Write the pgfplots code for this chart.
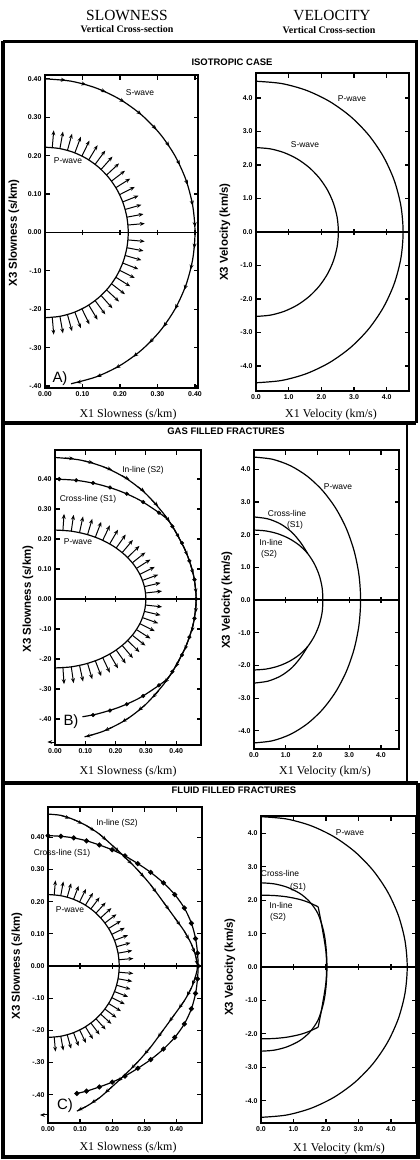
\documentclass[border=0pt]{standalone}
\usepackage{pgfplots}
\pgfplotsset{compat=1.18}
\usepackage{pgfplotstable}
\usepackage{fontspec}
\setmainfont{Liberation Serif}
\setsansfont{Liberation Sans}
\usetikzlibrary{arrows.meta}

\newcommand\tickfont{\fontsize{7}{7.5}\selectfont\sffamily\bfseries}
\newcommand\annfont{\fontsize{8.5}{9}\selectfont\sffamily}
\newcommand\ylabfont{\fontsize{11.5}{12}\selectfont\sffamily\bfseries}
\newcommand\xlabfont{\fontsize{12}{13}\selectfont\rmfamily}

% P-wave polarization arrows, isotropic (A and C)
\pgfplotstableread{
x y u v
.2212 .0194 .0448 .0039
.2184 .0398 .0443 .0081
.2138 .0599 .0433 .0122
.2073 .0796 .0420 .0161
.1990 .0985 .0403 .0200
.1889 .1166 .0383 .0236
.1773 .1336 .0359 .0271
.1641 .1495 .0333 .0303
.1495 .1641 .0303 .0333
.1336 .1773 .0271 .0359
.1166 .1889 .0236 .0383
.0985 .1990 .0200 .0403
.0796 .2073 .0161 .0420
.0599 .2138 .0122 .0433
.0398 .2184 .0081 .0443
.0194 .2212 .0039 .0448
.2212 -.0194 .0448 -.0039
.2184 -.0398 .0443 -.0081
.2138 -.0599 .0433 -.0122
.2073 -.0796 .0420 -.0161
.1990 -.0985 .0403 -.0200
.1889 -.1166 .0383 -.0236
.1773 -.1336 .0359 -.0271
.1641 -.1495 .0333 -.0303
.1495 -.1641 .0303 -.0333
.1336 -.1773 .0271 -.0359
.1166 -.1889 .0236 -.0383
.0985 -.1990 .0200 -.0403
.0796 -.2073 .0161 -.0420
.0599 -.2138 .0122 -.0433
.0398 -.2184 .0081 -.0443
.0194 -.2212 .0039 -.0448
}\PArrA

% P-wave arrows, gas filled (B)
\pgfplotstableread{
x y u v
.2989 .0201 .0546 .0062
.2951 .0413 .0535 .0127
.2889 .0621 .0517 .0189
.2801 .0824 .0492 .0246
.2689 .1020 .0462 .0298
.2553 .1208 .0429 .0345
.2396 .1384 .0392 .0386
.2218 .1549 .0354 .0421
.2020 .1700 .0315 .0451
.1805 .1837 .0275 .0476
.1575 .1958 .0235 .0497
.1331 .2061 .0195 .0514
.1075 .2147 .0155 .0528
.0810 .2215 .0116 .0538
.0538 .2263 .0076 .0545
.0262 .2291 .0037 .0549
.2989 -.0201 .0546 -.0062
.2951 -.0413 .0535 -.0127
.2889 -.0621 .0517 -.0189
.2801 -.0824 .0492 -.0246
.2689 -.1020 .0462 -.0298
.2553 -.1208 .0429 -.0345
.2396 -.1384 .0392 -.0386
.2218 -.1549 .0354 -.0421
.2020 -.1700 .0315 -.0451
.1805 -.1837 .0275 -.0476
.1575 -.1958 .0235 -.0497
.1331 -.2061 .0195 -.0514
.1075 -.2147 .0155 -.0528
.0810 -.2215 .0116 -.0538
.0538 -.2263 .0076 -.0545
.0262 -.2291 .0037 -.0549
}\PArrB

% S-wave tangent arrowheads (A)
\pgfplotstableread{
x y u v
.0418 .3978 .0139 -.0015
.0968 .3881 .0136 -.0034
.1498 .3709 .0130 -.0052
.2000 .3464 .0121 -.0070
.2463 .3152 .0110 -.0086
.2877 .2779 .0097 -.0101
.3236 .2351 .0082 -.0113
.3532 .1878 .0066 -.0124
.3759 .1368 .0048 -.0131
.3912 .0832 .0029 -.0137
.3990 .0279 .0010 -.0140
.3990 -.0279 -.0010 -.0140
.3912 -.0832 -.0029 -.0137
.3759 -.1368 -.0048 -.0131
.3532 -.1878 -.0066 -.0124
.3236 -.2351 -.0082 -.0113
.2877 -.2779 -.0097 -.0101
.2463 -.3152 -.0110 -.0086
.2000 -.3464 -.0121 -.0070
.1498 -.3709 -.0130 -.0052
.0968 -.3881 -.0136 -.0034
}\SArrA

% In-line S2 arrows (B)
\pgfplotstableread{
x y u v
.0329 .4705 .0299 -.0021
.0978 .4603 .0293 -.0062
.1604 .4407 .0282 -.0103
.2193 .4125 .0265 -.0141
.2725 .3751 .0243 -.0176
.3193 .3306 .0216 -.0208
.3606 .2817 .0185 -.0236
.3958 .2285 .0150 -.0260
.4260 .1721 .0112 -.0278
.4487 .1119 .0073 -.0291
.4626 .0486 .0031 -.0298
.4657 -.0163 -.0010 -.0300
.4570 -.0806 -.0052 -.0295
.4379 -.1423 -.0093 -.0285
.4117 -.2008 -.0132 -.0270
.3789 -.2556 -.0168 -.0249
.3415 -.3075 -.0201 -.0223
.2970 -.3539 -.0230 -.0193
.2465 -.3945 -.0254 -.0159
.1902 -.4272 -.0274 -.0122
.1294 -.4514 -.0288 -.0083
0 -.477 -.025 0
}\SArrB

% In-line S2 arrows (C)
\pgfplotstableread{
x y u v
.04 .468 .0285 -.0093
.08 .455 .0271 -.0129
.12 .436 .0252 -.0164
.16 .410 .0226 -.0197
.20 .375 .0220 -.0204
.24 .338 .0212 -.0212
.28 .298 .0197 -.0226
.32 .252 .0179 -.0241
.36 .198 .0177 -.0242
.395 .150 .0174 -.0244
.425 .108 .0144 -.0263
.447 .068 .0102 -.0282
.46 .032 .0055 -.0295
.46 -.032 -.0102 -.0282
.447 -.068 -.0144 -.0263
.425 -.108 -.0174 -.0244
.395 -.150 -.0177 -.0242
.36 -.198 -.0179 -.0241
.32 -.252 -.0197 -.0226
.28 -.298 -.0212 -.0212
.24 -.338 -.0220 -.0204
.20 -.375 -.0226 -.0197
.16 -.410 -.0252 -.0164
.12 -.436 -.0271 -.0129
0 -.463 -.025 0
}\SArrC

\pgfplotsset{
  panel/.style={scale only axis, anchor=south west, clip=false,
    axis line style={line width=1.5bp},
    tick align=inside, major tick length=4.5bp,
    every tick/.style={line width=1.2bp, black},
    xticklabel style={font=\tickfont},
    yticklabel style={font=\tickfont},
  },
  slow/.style={xtick={0,0.1,0.2,0.3,0.4}, xticklabels={0.00,0.10,0.20,0.30,0.40},
    ytick={-0.4,-0.3,-0.2,-0.1,0,0.1,0.2,0.3,0.4},
    yticklabels={-.40,-.30,-.20,-.10,0.00,0.10,0.20,0.30,0.40}},
  vel/.style={xtick={0,1,2,3,4}, xticklabels={0.0,1.0,2.0,3.0,4.0},
    ytick={-4,-3,-2,-1,0,1,2,3,4},
    yticklabels={-4.0,-3.0,-2.0,-1.0,0.0,1.0,2.0,3.0,4.0}},
  crv/.style={line width=1.2bp, black, smooth},
  arr/.style={quiver={u=\thisrow{u},v=\thisrow{v}}, -{Stealth[length=4.8bp,width=3.8bp]}, line width=1bp, black},
  zl/.style={line width=1.8bp, black},
  ztk/.style={only marks, mark=|, mark size=2.8bp, mark options={line width=1.2bp}, black},
}

\begin{document}
\begin{tikzpicture}
\useasboundingbox (0,0) rectangle (420bp,-1160bp);

% headers
\node[font=\fontsize{15.5}{16}\selectfont\rmfamily] at (127bp,-16bp) {SLOWNESS};
\node[font=\fontsize{10}{11}\selectfont\rmfamily\bfseries] at (127bp,-29bp) {Vertical Cross-section};
\node[font=\fontsize{15.5}{16}\selectfont\rmfamily] at (332bp,-16bp) {VELOCITY};
\node[font=\fontsize{10}{11}\selectfont\rmfamily\bfseries] at (329bp,-30bp) {Vertical Cross-section};

% frames
\draw[line width=3bp] (3bp,-41bp) -- (416bp,-41bp) -- (416bp,-423bp);
\draw[line width=2bp] (407bp,-423bp) -- (407bp,-783bp);
\draw[line width=3.5bp] (3bp,-41bp) -- (3bp,-1157bp) -- (418bp,-1157bp) -- (418bp,-783bp);
\draw[line width=3.5bp] (3bp,-423bp) -- (416bp,-423bp);
\draw[line width=3.5bp] (3bp,-783bp) -- (418bp,-783bp);

\node[font=\fontsize{9.5}{10}\selectfont\sffamily\bfseries] at (232bp,-62bp) {ISOTROPIC CASE};
\node[font=\fontsize{9.5}{10}\selectfont\sffamily\bfseries] at (226bp,-431bp) {GAS FILLED FRACTURES};
\node[font=\fontsize{9.5}{10}\selectfont\sffamily\bfseries] at (234bp,-790bp) {FLUID FILLED FRACTURES};

% ================= A slowness
\begin{axis}[panel, slow, at={(45bp,-388bp)}, width=153bp, height=313bp,
  xmin=0, xmax=0.408, ymin=-0.405, ymax=0.41]
\addplot[zl] coordinates {(0,0) (0.408,0)};
\addplot[ztk] coordinates {(0.1,0) (0.2,0) (0.3,0) (0.4,0)};
\addplot[crv] coordinates {(0,.4)(.0695,.3939)(.1368,.3759)(.2,.3464)(.2571,.3064)(.3064,.2571)(.3464,.2)(.3759,.1368)(.3939,.0695)(.4,0)(.3939,-.0695)(.3759,-.1368)(.3464,-.2)(.3064,-.2571)(.2571,-.3064)(.2,-.3464)(.1368,-.3759)(.0695,-.3939)};
\addplot[crv] coordinates {(0,.222)(.0386,.2186)(.0759,.2086)(.111,.1923)(.1427,.1701)(.1701,.1427)(.1923,.111)(.2086,.0759)(.2186,.0386)(.222,0)(.2186,-.0386)(.2086,-.0759)(.1923,-.111)(.1701,-.1427)(.1427,-.1701)(.111,-.1923)(.0759,-.2086)(.0386,-.2186)(0,-.222)};
\addplot[arr] table {\PArrA};
\addplot[arr, -{Stealth[length=5bp,width=4bp]}] table {\SArrA};
\end{axis}

% ================= A velocity
\begin{axis}[panel, vel, at={(256bp,-391bp)}, width=153bp, height=318bp,
  xmin=0, xmax=4.68, ymin=-4.746, ymax=4.746]
\addplot[zl] coordinates {(0,0) (4.68,0)};
\addplot[ztk] coordinates {(1,0) (2,0) (3,0) (4,0)};
\addplot[crv] coordinates {(0,4.5)(.781,4.432)(1.539,4.229)(2.25,3.897)(2.893,3.447)(3.447,2.893)(3.897,2.25)(4.229,1.539)(4.432,.781)(4.5,0)(4.432,-.781)(4.229,-1.539)(3.897,-2.25)(3.447,-2.893)(2.893,-3.447)(2.25,-3.897)(1.539,-4.229)(.781,-4.432)(0,-4.5)};
\addplot[crv] coordinates {(0,2.52)(.4375,2.4817)(.8618,2.368)(1.26,2.1823)(1.6199,1.9303)(1.9303,1.6199)(2.1823,1.26)(2.368,.8618)(2.4817,.4375)(2.52,0)(2.4817,-.4375)(2.368,-.8618)(2.1823,-1.26)(1.9303,-1.6199)(1.6199,-1.9303)(1.26,-2.1823)(.8618,-2.368)(.4375,-2.4817)(0,-2.52)};
\end{axis}

% ================= B slowness
\begin{axis}[panel, slow, at={(55bp,-745bp)}, width=146bp, height=295bp,
  xmin=0, xmax=0.482, ymin=-0.487, ymax=0.497]
\addplot[zl] coordinates {(0,0) (0.482,0)};
\addplot[ztk] coordinates {(0.1,0) (0.2,0) (0.3,0) (0.4,0)};
\addplot[crv] coordinates {(0,.23)(.0521,.2265)(.1026,.2161)(.15,.1992)(.1928,.1762)(.2298,.1478)(.2598,.115)(.2819,.0787)(.2954,.0399)(.30,0)(.2954,-.0399)(.2819,-.0787)(.2598,-.115)(.2298,-.1478)(.1928,-.1762)(.15,-.1992)(.1026,-.2161)(.0521,-.2265)(0,-.23)};
\addplot[arr, -{Stealth[length=5bp,width=4bp]}] table {\PArrB};
% S1 cross-line
\addplot[crv] coordinates {(0,.400)(.0698,.3959)(.1395,.3834)(.209,.362)(.2777,.3309)(.3432,.288)(.3744,.2621)(.3958,.2285)(.4323,.1573)(.457,.0806)(.466,0)(.457,-.0806)(.4323,-.1573)(.3958,-.2285)(.3744,-.2621)(.3432,-.288)(.2777,-.3309)(.209,-.362)(.1395,-.3834)(.0907,-.3927)};
\addplot[only marks, mark=*, mark size=1.9bp, black] coordinates {(.0140,.3998)(.0698,.3959)(.1258,.3871)(.1815,.3721)(.2369,.3512)(.2912,.3234)(.3432,.288)(.3875,.2422)(.4193,.1867)(.4437,.1272)(.4605,.0647)(.466,0)(.4605,-.0647)(.4437,-.1272)(.4193,-.1867)(.3875,-.2422)(.3432,-.288)(.2912,-.3234)(.2369,-.3512)(.1815,-.3721)(.1258,-.3871)};
% S2 in-line
\addplot[crv] coordinates {(0,.472)(.0818,.4638)(.1604,.4407)(.233,.4036)(.297,.3539)(.3508,.2944)(.3744,.2621)(.3958,.2285)(.4323,.1573)(.457,.0806)(.466,0)(.457,-.0806)(.4323,-.1573)(.3958,-.2285)(.3744,-.2621)(.3508,-.2944)(.297,-.3539)(.233,-.4036)(.1604,-.4407)(.0977,-.4597)};
\addplot[arr] table {\SArrB};
\end{axis}

% ================= B velocity
\begin{axis}[panel, vel, at={(254bp,-749bp)}, width=145bp, height=299bp,
  xmin=0, xmax=4.57, ymin=-4.556, ymax=4.587]
\addplot[zl] coordinates {(0,0) (4.57,0)};
\addplot[ztk] coordinates {(1,0) (2,0) (3,0) (4,0)};
\addplot[crv] coordinates {(0,4.37)(.5833,4.3036)(1.1491,4.1065)(1.68,3.7844)(2.1598,3.3474)(2.5738,2.809)(2.9098,2.185)(3.1574,1.4945)(3.3089,.7586)(3.36,0)(3.3089,-.7586)(3.1574,-1.4945)(2.9098,-2.185)(2.5738,-2.809)(2.1598,-3.3474)(1.68,-3.7844)(1.1491,-4.1065)(.5833,-4.3036)(0,-4.37)};
\addplot[crv] coordinates {(0,2.14)(.3725,2.1124)(.7387,2.0298)(1.09,1.8879)(1.4142,1.6853)(1.6929,1.4205)(1.9053,1.1)(2.0579,.749)(2.1469,.3785)(2.17,0)(2.1469,-.3785)(2.0579,-.749)(1.9053,-1.1)(1.6929,-1.4205)(1.4142,-1.6853)(1.09,-1.8879)(.7387,-2.0298)(.3725,-2.1124)(0,-2.14)};
\addplot[crv] coordinates {(0,2.54)(.4376,2.4817)(.8448,2.321)(1.195,2.0698)(1.472,1.7542)(1.6929,1.4205)};
\addplot[crv] coordinates {(1.6929,-1.4205)(1.472,-1.7542)(1.195,-2.0698)(.8448,-2.321)(.4376,-2.4817)(0,-2.54)};
\end{axis}

% ================= C slowness
\begin{axis}[panel, slow, at={(48bp,-1123bp)}, width=154bp, height=316bp,
  xmin=0, xmax=0.48, ymin=-0.488, ymax=0.494]
\addplot[zl] coordinates {(0,0) (0.48,0)};
\addplot[ztk] coordinates {(0.1,0) (0.2,0) (0.3,0) (0.4,0)};
\addplot[crv] coordinates {(0,.222)(.0386,.2186)(.0759,.2086)(.111,.1923)(.1427,.1701)(.1701,.1427)(.1923,.111)(.2086,.0759)(.2186,.0386)(.222,0)(.2186,-.0386)(.2086,-.0759)(.1923,-.111)(.1701,-.1427)(.1427,-.1701)(.111,-.1923)(.0759,-.2086)(.0386,-.2186)(0,-.222)};
\addplot[arr] table {\PArrA};
% S1 cross-line with dots
\addplot[crv, mark=*, mark size=1.9bp, mark options={solid}] coordinates {(0,.405)(.04,.403)(.08,.398)(.12,.389)(.16,.376)(.20,.361)(.24,.342)(.28,.318)(.32,.291)(.36,.258)(.395,.222)(.425,.18)(.447,.133)(.46,.085)(.466,.04)(.468,0)(.466,-.04)(.46,-.085)(.447,-.133)(.425,-.18)(.395,-.222)(.36,-.258)(.32,-.291)(.28,-.318)(.24,-.342)(.20,-.361)(.16,-.376)(.12,-.389)(.09,-.396)};
% S2 in-line
\addplot[crv] coordinates {(0,.472)(.04,.468)(.08,.455)(.12,.436)(.16,.41)(.20,.375)(.24,.338)(.28,.298)(.32,.252)(.36,.198)(.395,.15)(.425,.108)(.447,.068)(.46,.032)(.466,0)(.46,-.032)(.447,-.068)(.425,-.108)(.395,-.15)(.36,-.198)(.32,-.252)(.28,-.298)(.24,-.338)(.20,-.375)(.16,-.41)(.12,-.436)(.09,-.451)};
\addplot[arr] table {\SArrC};
\end{axis}

% ================= C velocity
\begin{axis}[panel, vel, at={(261bp,-1123bp)}, width=155bp, height=307bp,
  xmin=0, xmax=4.77, ymin=-4.67, ymax=4.52]
\addplot[zl] coordinates {(0,0) (4.77,0)};
\addplot[ztk] coordinates {(1,0) (2,0) (3,0) (4,0)};
\addplot[crv] coordinates {(0,4.5)(.781,4.432)(1.539,4.229)(2.25,3.897)(2.893,3.447)(3.447,2.893)(3.897,2.25)(4.229,1.539)(4.432,.781)(4.5,0)(4.432,-.781)(4.229,-1.539)(3.897,-2.25)(3.447,-2.893)(2.893,-3.447)(2.25,-3.897)(1.539,-4.229)(.781,-4.432)(0,-4.5)};
% S1
\addplot[crv] coordinates {(0,2.52)(.4,2.49)(.8,2.39)(1.2,2.2)(1.5,1.95)(1.75,1.6)(1.92,1.1)(2.0,.6)(2.03,0)(2.0,-.6)(1.92,-1.1)(1.75,-1.6)(1.5,-1.95)(1.2,-2.2)(.8,-2.39)(.4,-2.49)(0,-2.52)};
% S2
\addplot[crv] coordinates {(0,2.15)(.4,2.14)(.8,2.1)(1.2,2.02)(1.5,1.92)(1.76,1.8)};
\addplot[line width=1.2bp] coordinates {(1.76,1.8)(1.85,1.35)(1.94,.85)};
\addplot[crv] coordinates {(1.94,.85)(2.0,.45)(2.02,0)(2.0,-.45)(1.94,-.85)};
\addplot[line width=1.2bp] coordinates {(1.94,-.85)(1.85,-1.35)(1.76,-1.8)};
\addplot[crv] coordinates {(1.76,-1.8)(1.5,-1.92)(1.2,-2.02)(.8,-2.1)(.4,-2.14)(0,-2.15)};
\end{axis}

% axis titles
\node[font=\ylabfont, rotate=90] at (14bp,-233bp) {X3 Slowness (s/km)};
\node[font=\ylabfont, rotate=90] at (28bp,-599bp) {X3 Slowness (s/km)};
\node[font=\ylabfont, rotate=90] at (17bp,-966bp) {X3 Slowness (s/km)};
\node[font=\ylabfont, rotate=90] at (225bp,-232bp) {X3 Velocity (km/s)};
\node[font=\ylabfont, rotate=90] at (227bp,-600bp) {X3 Velocity (km/s)};
\node[font=\ylabfont, rotate=90] at (230bp,-967bp) {X3 Velocity (km/s)};
\node[font=\xlabfont] at (128bp,-415bp) {X1 Slowness (s/km)};
\node[font=\xlabfont] at (128bp,-772bp) {X1 Slowness (s/km)};
\node[font=\xlabfont] at (128bp,-1148bp) {X1 Slowness (s/km)};
\node[font=\xlabfont] at (331bp,-415bp) {X1 Velocity (km/s)};
\node[font=\xlabfont] at (325bp,-772bp) {X1 Velocity (km/s)};
\node[font=\xlabfont] at (339bp,-1149bp) {X1 Velocity (km/s)};

% annotations
\node[font=\annfont] at (140bp,-93bp) {S-wave};
\node[font=\annfont] at (68bp,-161bp) {P-wave};
\node[font=\annfont] at (352bp,-99bp) {P-wave};
\node[font=\annfont] at (305bp,-145bp) {S-wave};
\node[font=\fontsize{15}{15}\selectfont\sffamily] at (60bp,-379bp) {A)};

\node[font=\annfont] at (143bp,-470bp) {In-line (S2)};
\node[font=\annfont] at (88bp,-499bp) {Cross-line (S1)};
\node[font=\annfont] at (78bp,-542bp) {P-wave};
\node[font=\annfont] at (338bp,-487bp) {P-wave};
\node[font=\annfont] at (287bp,-513bp) {Cross-line};
\node[font=\annfont] at (295bp,-525bp) {(S1)};
\node[font=\annfont] at (271bp,-542bp) {In-line};
\node[font=\annfont] at (269bp,-554bp) {(S2)};
\node[font=\fontsize{15}{15}\selectfont\sffamily] at (71bp,-722bp) {B)};

\node[font=\annfont] at (117bp,-823bp) {In-line (S2)};
\node[font=\annfont] at (62bp,-853bp) {Cross-line (S1)};
\node[font=\annfont] at (70bp,-910bp) {P-wave};
\node[font=\annfont] at (350bp,-833bp) {P-wave};
\node[font=\annfont] at (280bp,-873bp) {Cross-line};
\node[font=\annfont] at (298bp,-887bp) {(S1)};
\node[font=\annfont] at (281bp,-905bp) {In-line};
\node[font=\annfont] at (278bp,-917bp) {(S2)};
\node[font=\fontsize{15}{15}\selectfont\sffamily] at (65bp,-1106bp) {C)};
\end{tikzpicture}
\end{document}
